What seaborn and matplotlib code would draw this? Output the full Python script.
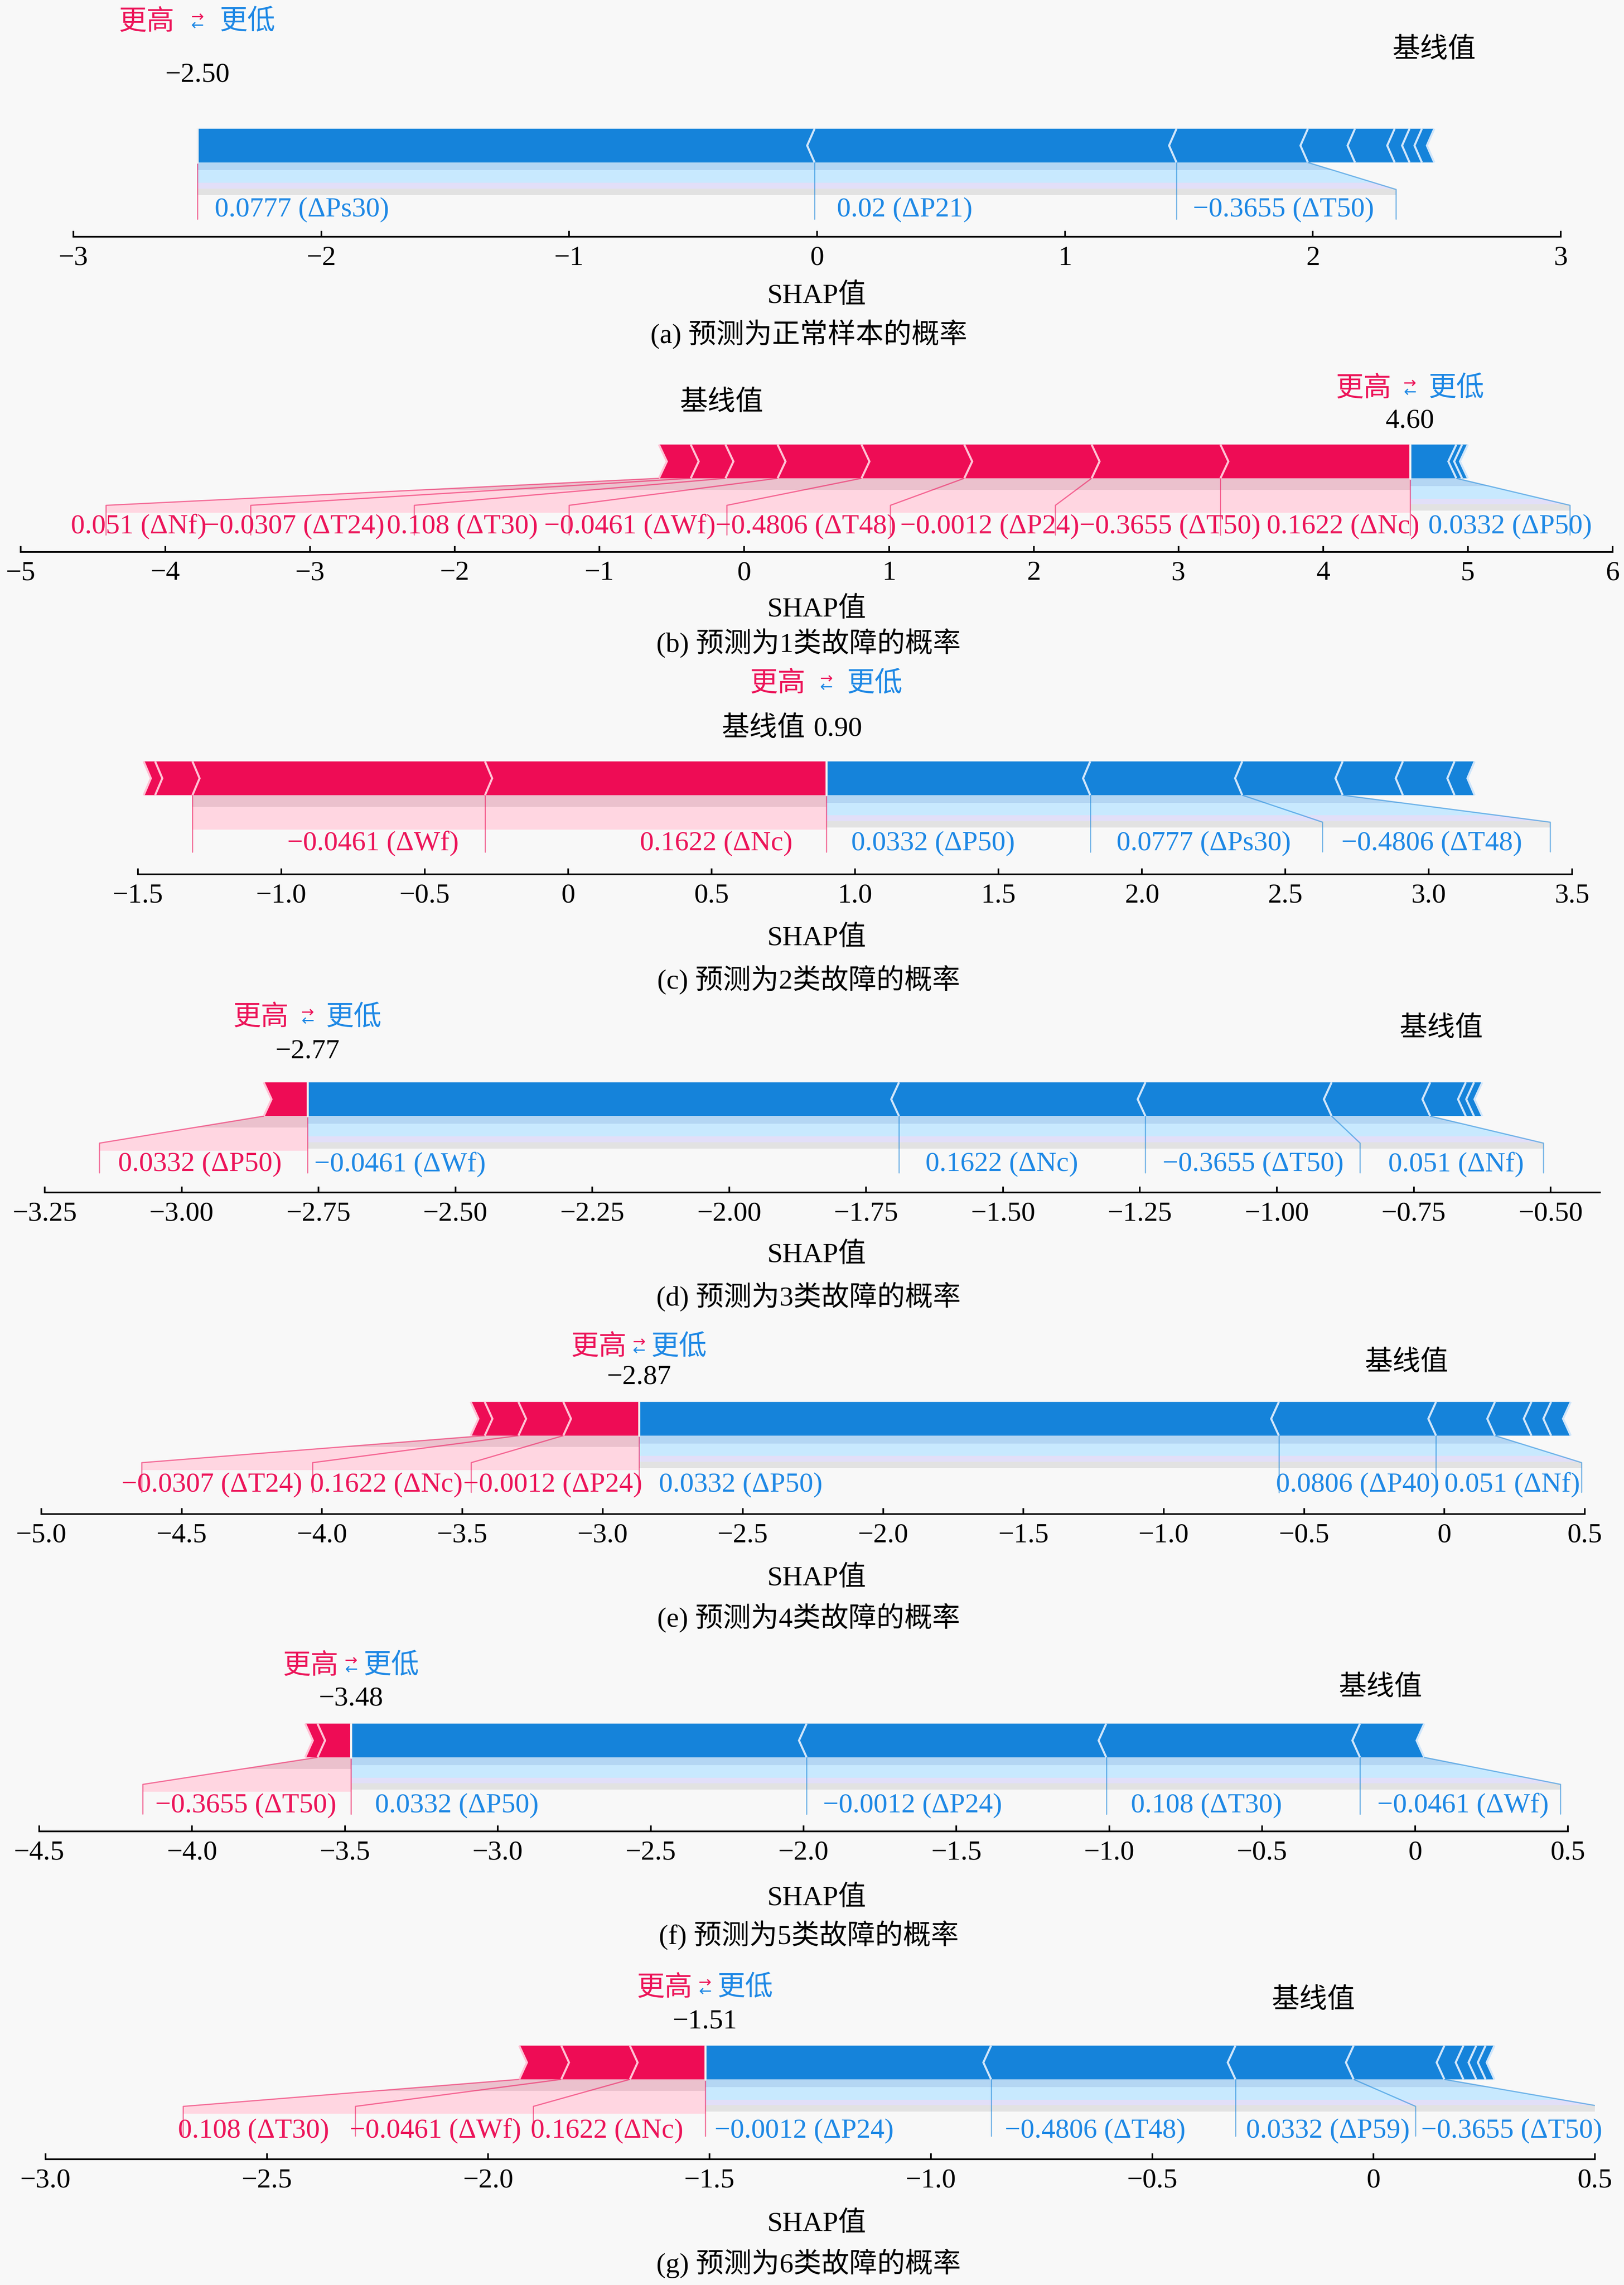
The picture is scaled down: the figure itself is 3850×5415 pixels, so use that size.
#!/usr/bin/env python3
import matplotlib
matplotlib.use("Agg")
import matplotlib.pyplot as plt
from matplotlib.patches import Polygon, PathPatch, Rectangle
from matplotlib.path import Path
from matplotlib.lines import Line2D
import seaborn as sns

# CONFIG
sns.set_theme(style="white")
plt.rcParams["font.family"] = ["Liberation Serif", "Noto Sans CJK SC"]
plt.rcParams["axes.unicode_minus"] = True

W, H, DPI = 3850, 5415, 350
PX_UNIT = 800          # vertical pixels per y data unit (bar height = 0.1)
Y_TOP = 0.45
FS = 13.6
BG = "#F8F8F8"
TEXT_DY = -0.009       # small downward nudge for text centres

RED, BLUE = "#EE0C55", "#1583DA"
RED_TXT, BLUE_TXT = "#EC1459", "#1E88E5"
RED_SEP, BLUE_SEP = "#FFC3D5", "#D1E6FA"
RED_BANDS = [(0, -0.034, "#EBC1CD"), (-0.034, -0.102, "#FFD6E1")]
BLUE_BANDS = [(0, -0.023, "#B4D6F3"), (-0.023, -0.060, "#C8E9FE"),
              (-0.060, -0.077, "#E2DFF8"), (-0.077, -0.096, "#E2E2E2")]

# 1. DATA
# edges: cumulative SHAP positions, walking away from the output value
a_out, a_base = -2.50, 2.49
a_pos_edges, a_pos_labels = [], []
a_neg_edges = [-0.01, 1.45, 1.98, 2.17, 2.33, 2.39, 2.44, 2.49]
a_neg_labels = ["0.0777 (ΔPs30)", "0.02 (ΔP21)", "−0.3655 (ΔT50)"]
a_ticks = [-3, -2, -1, 0, 1, 2, 3]
a_ticklabels = ["−3", "−2", "−1", "0", "1", "2", "3"]
a_caption = "(a) 预测为正常样本的概率"

b_out, b_base = 4.60, -0.155
b_pos_edges = [3.29, 2.40, 1.52, 0.81, 0.23, -0.13, -0.37, -0.59]
b_pos_labels = ["0.1622 (ΔNc)", "−0.3655 (ΔT50)", "−0.0012 (ΔP24)", "−0.4806 (ΔT48)",
                "−0.0461 (ΔWf)", "0.108 (ΔT30)", "−0.0307 (ΔT24)", "0.051 (ΔNf)"]
b_neg_edges = [4.92, 4.96, 5.00]
b_neg_labels = ["0.0332 (ΔP50)"]
b_ticks = [-5, -4, -3, -2, -1, 0, 1, 2, 3, 4, 5, 6]
b_ticklabels = ["−5", "−4", "−3", "−2", "−1", "0", "1", "2", "3", "4", "5", "6"]
b_caption = "(b) 预测为1类故障的概率"

c_out, c_base = 0.90, 0.68
c_pos_edges = [-0.29, -1.31, -1.44, -1.48]
c_pos_labels = ["0.1622 (ΔNc)", "−0.0461 (ΔWf)"]
c_neg_edges = [1.82, 2.35, 2.70, 2.91, 3.09, 3.16]
c_neg_labels = ["0.0332 (ΔP50)", "0.0777 (ΔPs30)", "−0.4806 (ΔT48)"]
c_ticks = [-1.5, -1.0, -0.5, 0, 0.5, 1.0, 1.5, 2.0, 2.5, 3.0, 3.5]
c_ticklabels = ["−1.5", "−1.0", "−0.5", "0", "0.5", "1.0", "1.5", "2.0", "2.5", "3.0", "3.5"]
c_caption = "(c) 预测为2类故障的概率"

d_out, d_base = -2.77, -0.70
d_pos_edges = [-2.85]
d_pos_labels = ["0.0332 (ΔP50)"]
d_neg_edges = [-1.69, -1.24, -0.90, -0.72, -0.655, -0.64, -0.625]
d_neg_labels = ["−0.0461 (ΔWf)", "0.1622 (ΔNc)", "−0.3655 (ΔT50)", "0.051 (ΔNf)"]
d_ticks = [-3.25, -3.00, -2.75, -2.50, -2.25, -2.00, -1.75, -1.50, -1.25, -1.00, -0.75, -0.50]
d_ticklabels = ["−3.25", "−3.00", "−2.75", "−2.50", "−2.25", "−2.00",
                "−1.75", "−1.50", "−1.25", "−1.00", "−0.75", "−0.50"]
d_caption = "(d) 预测为3类故障的概率"

e_out, e_base = -2.87, -0.135
e_pos_edges = [-3.14, -3.30, -3.42, -3.47]
e_pos_labels = ["−0.0012 (ΔP24)", "0.1622 (ΔNc)", "−0.0307 (ΔT24)"]
e_neg_edges = [-0.59, -0.03, 0.18, 0.31, 0.38, 0.45]
e_neg_labels = ["0.0332 (ΔP50)", "0.0806 (ΔP40)", "0.051 (ΔNf)"]
e_ticks = [-5.0, -4.5, -4.0, -3.5, -3.0, -2.5, -2.0, -1.5, -1.0, -0.5, 0, 0.5]
e_ticklabels = ["−5.0", "−4.5", "−4.0", "−3.5", "−3.0", "−2.5",
                "−2.0", "−1.5", "−1.0", "−0.5", "0", "0.5"]
e_caption = "(e) 预测为4类故障的概率"

f_out, f_base = -3.48, -0.113
f_pos_edges = [-3.59, -3.63]
f_pos_labels = ["−0.3655 (ΔT50)"]
f_neg_edges = [-1.99, -1.01, -0.18, 0.03]
f_neg_labels = ["0.0332 (ΔP50)", "−0.0012 (ΔP24)", "0.108 (ΔT30)", "−0.0461 (ΔWf)"]
f_ticks = [-4.5, -4.0, -3.5, -3.0, -2.5, -2.0, -1.5, -1.0, -0.5, 0, 0.5]
f_ticklabels = ["−4.5", "−4.0", "−3.5", "−3.0", "−2.5", "−2.0",
                "−1.5", "−1.0", "−0.5", "0", "0.5"]
f_caption = "(f) 预测为5类故障的概率"

g_out, g_base = -1.51, -0.136
g_pos_edges = [-1.68, -1.835, -1.93]
g_pos_labels = ["0.1622 (ΔNc)", "−0.0461 (ΔWf)", "0.108 (ΔT30)"]
g_neg_edges = [-0.864, -0.312, -0.045, 0.16, 0.203, 0.232, 0.253, 0.273]
g_neg_labels = ["−0.0012 (ΔP24)", "−0.4806 (ΔT48)", "0.0332 (ΔP59)", "−0.3655 (ΔT50)"]
g_ticks = [-3.0, -2.5, -2.0, -1.5, -1.0, -0.5, 0, 0.5]
g_ticklabels = ["−3.0", "−2.5", "−2.0", "−1.5", "−1.0", "−0.5", "0", "0.5"]
g_caption = "(g) 预测为6类故障的概率"

# 2. LAYOUT (canvas pixels; label anchors / bent-line ends in data units)
a_lay = dict(xlim=(-3, 3), x_px=(174, 3700), bar_px=385, axis_y=-0.220, label_y=-0.131,
             out_y=0.268, base_y=0.341, leg_y=0.424, leg_gap=11, shap_px=702, cap_px=792,
             pos_drops=[], pos_text=[],
             neg_drops=[None, None, 2.336], neg_text=[-2.43, 0.08, 1.517])
b_lay = dict(xlim=(-5, 6), x_px=(49, 3823), bar_px=1133.5, axis_y=-0.2176, label_y=-0.134,
             out_y=0.179, base_y=0.231, leg_y=0.2735, leg_gap=9, shap_px=1445, cap_px=1524,
             pos_drops=[None, 2.15, 1.01, -0.12, -1.21, -2.28, -3.41, -4.41],
             pos_text=[4.665, 3.566, 2.316, 1.048, -0.197, -1.427, -2.485, -3.715],
             neg_drops=[5.706], neg_text=[4.727])
c_lay = dict(xlim=(-1.5, 3.5), x_px=(327, 3727), bar_px=1884.4, axis_y=-0.2345, label_y=-0.1345,
             out_y=0.205, base_y=0.205, leg_y=0.338, leg_gap=10, shap_px=2224, cap_px=2322,
             out_x=0.94,
             pos_drops=[None, None], pos_text=[0.782, -0.381],
             neg_drops=[None, 2.63, 3.424], neg_text=[0.987, 1.912, 2.695])
d_lay = dict(xlim=(-3.25, -0.41), x_px=(106, 3793), bar_px=2645, axis_y=-0.226, label_y=-0.134,
             out_y=0.201, base_y=0.2675, leg_y=0.30, leg_gap=9, shap_px=2975, cap_px=3073,
             pos_drops=[-3.15], pos_text=[-2.817],
             neg_drops=[None, None, -0.848, -0.513], neg_text=[-2.758, -1.642, -1.209, -0.797])
e_lay = dict(xlim=(-5.0, 0.5), x_px=(98, 3757), bar_px=3402.2, axis_y=-0.232, label_y=-0.137,
             out_y=0.1816, base_y=0.223, leg_y=0.27, leg_gap=6, shap_px=3741, cap_px=3834,
             pos_drops=[-3.468, -4.033, -4.642], pos_text=[-2.859, -3.498, -4.070],
             neg_drops=[None, None, 0.489], neg_text=[-2.80, -0.60, 0.0])
f_lay = dict(xlim=(-4.5, 0.5), x_px=(93, 3717), bar_px=4164.6, axis_y=-0.219, label_y=-0.134,
             out_y=0.182, base_y=0.214, leg_y=0.279, leg_gap=6, shap_px=4499, cap_px=4586,
             pos_drops=[-4.161], pos_text=[-3.528],
             neg_drops=[None, None, None, 0.476], neg_text=[-3.402, -1.936, -0.930, -0.123])
g_lay = dict(xlim=(-3.0, 0.5), x_px=(108, 3781), bar_px=4927.7, axis_y=-0.2366, label_y=-0.144,
             out_y=0.18, base_y=0.242, leg_y=0.279, leg_gap=6, shap_px=5271, cap_px=5364,
             pos_drops=[-1.898, -2.300, -2.689], pos_text=[-1.559, -1.926, -2.359],
             neg_drops=[None, None, 0.095, 0.512], neg_text=[-1.489, -0.833, -0.288, 0.107])


def minus(v):
    return f"{v:.2f}".replace("-", "\u2212")


def draw_side(ax, out, edges, labels, drops, texts, sign, indent, lay):
    # sign = +1: red features stacked left of out; -1: blue stacked right
    w = 0.1
    col, sep_col, txt_col = (RED, RED_SEP, RED_TXT) if sign > 0 else (BLUE, BLUE_SEP, BLUE_TXT)
    bands = RED_BANDS if sign > 0 else BLUE_BANDS
    ind = abs(indent) if sign > 0 else -abs(indent)

    prev = out
    for i, e in enumerate(edges):
        if sign > 0:
            left, right, sep = e, prev, e
        else:
            left, right, sep = prev, e, e
        if i == 0:
            if sign > 0:
                pts = [[left, 0], [right, 0], [right, w], [left, w], [left + ind, w / 2]]
            else:
                pts = [[right, 0], [left, 0], [left, w], [right, w], [right + ind, w / 2]]
        else:
            pts = [[left, 0], [right, 0], [right + ind * 0.9, w / 2], [right, w],
                   [left, w], [left + ind * 0.9, w / 2]]
        ax.add_patch(Polygon(pts, closed=True, facecolor=col, linewidth=0, zorder=3))
        ax.add_patch(Polygon([[sep, 0], [sep + ind, w / 2], [sep, w]], closed=False,
                             fill=False, edgecolor=sep_col, lw=1.0, zorder=4))
        prev = e

    line_kw = dict(lw=0.6, color=col, alpha=0.55, zorder=2)
    y_end = -0.168
    pre_val, box_end = out, out
    for i, lab in enumerate(labels):
        val = edges[i]
        drop = drops[i]
        if drop is None:
            ax.add_line(Line2D([val, val], [0, y_end], **line_kw))
            box_end = val
        else:
            ax.add_line(Line2D([val, drop, drop], [0, -0.08, y_end], **line_kw))
            box_end = drop
        pre_val = val
        ax.text(texts[i], lay["label_y"] + TEXT_DY, lab, ha="right" if sign > 0 else "left",
                va="center", color=txt_col, fontsize=FS, zorder=5, clip_on=False)

    if labels:
        path = Path([[out, 0], [pre_val, 0], [box_end, -0.08], [box_end, -0.2],
                     [out, -0.2], [out, 0]])
        clip = PathPatch(path, facecolor="none", edgecolor="none")
        ax.add_patch(clip)
        xa, xb = min(out, pre_val, box_end), max(out, pre_val, box_end)
        for y0, y1, c in bands:
            r = Rectangle((xa, y1), xb - xa, y0 - y1, facecolor=c, edgecolor="none",
                          zorder=1, clip_on=True)
            ax.add_patch(r)
            r.set_clip_path(clip)


def draw_panel(fig, out, base, pos_edges, pos_labels, neg_edges, neg_labels,
               ticks, ticklabels, caption, lay):
    x0px, x1px = lay["x_px"]
    bottom_px = lay["bar_px"] - lay["axis_y"] * PX_UNIT
    top_px = lay["bar_px"] - Y_TOP * PX_UNIT
    ax = fig.add_axes([x0px / W, 1 - bottom_px / H, (x1px - x0px) / W,
                       (bottom_px - top_px) / H])
    ax.set_facecolor("none")
    ax.set_xlim(*lay["xlim"])
    ax.set_ylim(lay["axis_y"], Y_TOP)
    for s in ["top", "left", "right"]:
        ax.spines[s].set_visible(False)
    ax.spines["bottom"].set_linewidth(0.8)
    ax.spines["bottom"].set_color("black")
    ax.set_yticks([])
    ax.set_xticks(ticks, ticklabels)
    ax.tick_params(axis="x", bottom=True, direction="in", length=2.8, width=0.8,
                   pad=4.4, labelsize=FS, colors="black")
    ax.grid(False)

    indent = (lay["xlim"][1] - lay["xlim"][0]) / 200

    # red initial line at the output value
    ax.add_line(Line2D([out, out], [0, -0.168], lw=0.6, color=RED, alpha=0.55, zorder=2))

    draw_side(ax, out, neg_edges, neg_labels, lay["neg_drops"], lay["neg_text"], -1, indent, lay)
    draw_side(ax, out, pos_edges, pos_labels, lay["pos_drops"], lay["pos_text"], 1, indent, lay)

    # output line through the bar
    ax.add_line(Line2D([out, out], [0, 0.1], lw=1.0, color="#F2F2F2", zorder=4))

    # higher / lower legend
    ly, gap = lay["leg_y"] + TEXT_DY, lay["leg_gap"]
    ax.annotate("更高", xy=(out, ly), xytext=(-gap, 0), textcoords="offset points",
                ha="right", va="center", color=RED_TXT, fontsize=FS, annotation_clip=False)
    ax.annotate("更低", xy=(out, ly), xytext=(gap, 0), textcoords="offset points",
                ha="left", va="center", color=BLUE_TXT, fontsize=FS, annotation_clip=False)
    ax.annotate("→", xy=(out, ly), xytext=(0, 2.6), textcoords="offset points",
                ha="center", va="center", color=RED_TXT, fontsize=7.5,
                family="DejaVu Sans", annotation_clip=False)
    ax.annotate("←", xy=(out, ly), xytext=(0, -1.6), textcoords="offset points",
                ha="center", va="center", color=BLUE_TXT, fontsize=7.5,
                family="DejaVu Sans", annotation_clip=False)

    ax.text(lay.get("out_x", out), lay["out_y"] + TEXT_DY, minus(out), ha="center",
            va="center", fontsize=FS, color="black", clip_on=False)
    ax.text(base, lay["base_y"] + TEXT_DY, "基线值", ha="center", va="center",
            fontsize=FS, color="black", clip_on=False)

    fig.text(0.503, 1 - lay["shap_px"] / H, "SHAP值", ha="center", va="center",
             fontsize=FS, color="black")
    fig.text(0.498, 1 - lay["cap_px"] / H, caption, ha="center", va="center",
             fontsize=FS, color="black")


panels = [
    (a_out, a_base, a_pos_edges, a_pos_labels, a_neg_edges, a_neg_labels, a_ticks, a_ticklabels, a_caption, a_lay),
    (b_out, b_base, b_pos_edges, b_pos_labels, b_neg_edges, b_neg_labels, b_ticks, b_ticklabels, b_caption, b_lay),
    (c_out, c_base, c_pos_edges, c_pos_labels, c_neg_edges, c_neg_labels, c_ticks, c_ticklabels, c_caption, c_lay),
    (d_out, d_base, d_pos_edges, d_pos_labels, d_neg_edges, d_neg_labels, d_ticks, d_ticklabels, d_caption, d_lay),
    (e_out, e_base, e_pos_edges, e_pos_labels, e_neg_edges, e_neg_labels, e_ticks, e_ticklabels, e_caption, e_lay),
    (f_out, f_base, f_pos_edges, f_pos_labels, f_neg_edges, f_neg_labels, f_ticks, f_ticklabels, f_caption, f_lay),
    (g_out, g_base, g_pos_edges, g_pos_labels, g_neg_edges, g_neg_labels, g_ticks, g_ticklabels, g_caption, g_lay),
]

# 3. PLOT
fig = plt.figure(figsize=(W / DPI, H / DPI), dpi=DPI, facecolor=BG)
for p in panels:
    draw_panel(fig, *p)

fig.savefig("out.png", dpi=DPI, facecolor=BG)
plt.close(fig)
